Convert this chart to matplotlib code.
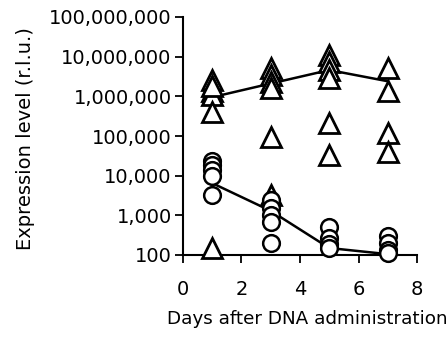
import matplotlib
matplotlib.use("Agg")
import matplotlib.pyplot as plt
import matplotlib.ticker as mticker

# triangles (individual animals)
tri_days = [1, 1, 1, 1, 1, 1,
            3, 3, 3, 3, 3, 3,
            5, 5, 5, 5, 5, 5,
            7, 7, 7, 7]
tri_vals = [2.6e6, 1.4e6, 1.07e6, 4.0e5, 1.5e2, 1.8e6,
            5.1e6, 3.4e6, 2.3e6, 1.6e6, 9.3e4, 3.2e3,
            1.1e7, 7.3e6, 4.6e6, 2.9e6, 2.1e5, 3.3e4,
            5.1e6, 1.4e6, 1.2e5, 4.0e4]
tri_mean_days = [1, 3, 5, 7]
tri_mean_vals = [9.5e5, 2.1e6, 4.6e6, 2.4e6]

# circles (individual animals)
circ_days = [1, 1, 1, 1, 1,
             3, 3, 3, 3, 3,
             5, 5, 5, 5,
             7, 7, 7, 7]
circ_vals = [2.4e4, 1.85e4, 1.4e4, 1.0e4, 3.3e3,
             2.4e3, 1.5e3, 1.0e3, 6.8e2, 2.0e2,
             5.0e2, 2.7e2, 1.9e2, 1.5e2,
             3.0e2, 2.0e2, 1.35e2, 1.1e2]
circ_mean_days = [1, 3, 5, 7]
circ_mean_vals = [6.5e3, 1.3e3, 1.5e2, 1.05e2]

fig = plt.figure(figsize=(4.48, 3.40), dpi=100)
ax = fig.add_axes([0.408, 0.25, 0.523, 0.70])

ax.plot(tri_mean_days, tri_mean_vals, color='black', lw=1.8, zorder=2)
ax.plot(circ_mean_days, circ_mean_vals, color='black', lw=1.8, zorder=2)
ax.plot(tri_days, tri_vals, linestyle='none', marker='^', ms=14,
        mfc='white', mec='black', mew=2.0, zorder=3, clip_on=False)
ax.plot(circ_days, circ_vals, linestyle='none', marker='o', ms=12,
        mfc='white', mec='black', mew=1.8, zorder=3, clip_on=False)

ax.set_yscale('log')
ax.set_ylim(100, 1e8)
ax.set_xlim(0, 8)
ax.set_xticks([0, 2, 4, 6, 8])
ax.yaxis.set_major_locator(mticker.LogLocator(base=10, numticks=10))
ax.yaxis.set_minor_locator(mticker.NullLocator())
ax.yaxis.set_major_formatter(mticker.FuncFormatter(lambda v, p: '{:,}'.format(int(round(v)))))

for s in ['top', 'right']:
    ax.spines[s].set_visible(False)
for s in ['left', 'bottom']:
    ax.spines[s].set_linewidth(1.5)
ax.tick_params(axis='both', direction='out', length=6, width=1.3, labelsize=14, pad=2)
ax.tick_params(axis='x', pad=12)

ax.set_xlabel('Days after DNA administration', fontsize=13.2)
ax.xaxis.set_label_coords(0.53, -0.23)
ax.set_ylabel('Expression level (r.l.u.)', fontsize=14)
ax.yaxis.set_label_coords(-0.63, 0.49)

fig.savefig('out.png', dpi=100)
